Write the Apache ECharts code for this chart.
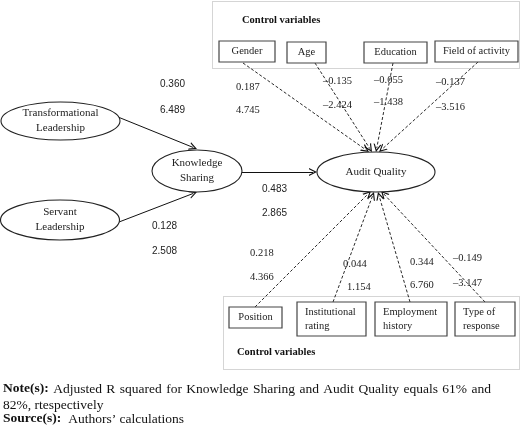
<!DOCTYPE html>
<html><head><meta charset="utf-8">
<script src="https://cdn.jsdelivr.net/npm/echarts@6/dist/echarts.min.js"></script>
<style>html,body{margin:0;padding:0;background:#fff}#c{width:520px;height:436px}</style>
</head><body><div id="c"></div>
<script>
// ---- content ----
const constructs = ['Transformational\nLeadership', 'Knowledge\nSharing', 'Servant\nLeadership', 'Audit Quality'];
const topControls = ['Gender', 'Age', 'Education', 'Field of activity'];
const bottomControls = ['Position', 'Institutional\nrating', 'Employment\nhistory', 'Type of\nresponse'];
const controlTitle = 'Control variables';
const pathBeta = [0.360, 0.128, 0.483];
const pathT = [6.489, 2.508, 2.865];
const topBeta = [0.187, -0.135, -0.055, -0.137];
const topT = [4.745, -2.424, -1.438, -3.516];
const bottomBeta = [0.218, 0.044, 0.344, -0.149];
const bottomT = [4.366, 1.154, 6.760, -3.147];
const noteHead = 'Note(s):';
const noteLine1 = 'Adjusted R squared for Knowledge Sharing and Audit Quality equals 61% and';
const noteLine2 = '82%, rtespectively';
const sourceHead = 'Source(s):';
const sourceText = 'Authors\u2019 calculations';

// ---- layout (diagram geometry, in canvas units) ----
const ellipseLayout = [[60.5,121,59.5,19],[197,171,45,21],[60,220,59.5,20],[376,172,59,20]];
const topBoxLayout = [[219,41,56,21],[287,42,39,21],[364,42,63,21],[435,41,83,21]];
const bottomBoxLayout = [[229,307,53,21],[297,302,69,34],[375,302,72,34],[455,302,60,34]];
const frameLayout = [[212,1,307,67,242,20],[223,296,296,73,237,352]];
const pathArrows = [[[118,117],[197,149]],[[119,222],[197,192]],[[242,172],[317,172]]];
const topArrows = [[[243,63],[369,152]],[[315,63],[372,152]],[[393,63],[376,152]],[[478,62],[379,152]]];
const bottomArrows = [[[255,307],[371,191]],[[333,302],[374,192]],[[410,302],[378,192]],[[485,302],[381,191]]];
const pathLabelPos = [[160,84,160,110],[152,226,152,251],[262,189,262,213]];
const topLabelPos = [[236,87,236,110],[323,81,323,105],[374,80,374,102],[436,82,436,107]];
const bottomLabelPos = [[250,253,250,277],[343,264,347,287],[410,262,410,285],[453,258,453,283]];

const SERIF = '"Liberation Serif","DejaVu Serif",serif';
const SANS = '"Liberation Sans",Arial,sans-serif';
const fmt = v => (v < 0 ? '\u2013' : '') + Math.abs(v).toFixed(3);
const ARROW = 'path://M0,10 L5,0 L10,10 L8.4,10 L5,3.2 L1.6,10 Z';
const AH = 8;

function shorten(seg) {
  const [a, b] = seg;
  const dx = b[0]-a[0], dy = b[1]-a[1], L = Math.hypot(dx, dy);
  const k = (L - AH/2) / L;
  return [a, [a[0]+dx*k, a[1]+dy*k]];
}
function arrowSeries(segs, dashed) {
  return {
    type: 'lines', coordinateSystem: 'cartesian2d', polyline: false, silent: true, z: 2,
    symbol: ['none', ARROW], symbolSize: [AH, AH],
    lineStyle: {color: '#111', width: dashed ? 0.9 : 1, opacity: 1, curveness: 0, type: dashed ? [3, 2] : 'solid'},
    data: segs.map(s => ({coords: shorten(s)}))
  };
}
function labelSeries(pos, betas, ts, font) {
  return {
    type: 'custom', coordinateSystem: 'cartesian2d', silent: true, z: 5,
    data: pos.map(p => [p[0], p[1]]),
    renderItem: (params, api) => {
      const i = params.dataIndex, p = pos[i];
      const a = api.coord([p[0], p[1]]), b = api.coord([p[2], p[3]]);
      return {type: 'group', children: [
        {type: 'text', style: {text: fmt(betas[i]), x: a[0], y: a[1], font: font, fill: '#222', align: 'left', verticalAlign: 'middle'}},
        {type: 'text', style: {text: fmt(ts[i]), x: b[0], y: b[1], font: font, fill: '#222', align: 'left', verticalAlign: 'middle'}}
      ]};
    }
  };
}
function boxSeries(layout, names, leftAlign) {
  return {
    type: 'custom', coordinateSystem: 'cartesian2d', silent: true, z: 4,
    data: layout.map(l => [l[0], l[1]]),
    renderItem: (params, api) => {
      const i = params.dataIndex, l = layout[i];
      const p = api.coord([l[0], l[1]]);
      const multi = names[i].indexOf('\n') >= 0;
      const tx = (leftAlign && multi) ? p[0] + 8 : p[0] + l[2]/2;
      return {type: 'group', children: [
        {type: 'rect', shape: {x: p[0], y: p[1], width: l[2], height: l[3]},
         style: {fill: '#fff', stroke: '#444', lineWidth: 1.2}},
        {type: 'text', style: {text: names[i], x: tx, y: p[1] + l[3]/2, font: '10.5px ' + SERIF, lineHeight: 14,
          fill: '#222', align: (leftAlign && multi) ? 'left' : 'center', verticalAlign: 'middle'}}
      ]};
    }
  };
}

// justified first note line (word positions measured with canvas)
const NOTE_FONT = '13.5px ' + SERIF, NOTE_BOLD = 'bold 13.5px ' + SERIF;
const mctx = document.createElement('canvas').getContext('2d');
function tw(t, f) { mctx.font = f; return mctx.measureText(t).width; }
const noteX0 = 3, noteX1 = 491, noteY1 = 389, noteY2 = 405, sourceY = 419;
const noteGraphics = [];
(function () {
  const words = [{t: noteHead, f: NOTE_BOLD}].concat(noteLine1.split(' ').map(w => ({t: w, f: NOTE_FONT})));
  const total = words.reduce((s, w) => s + tw(w.t, w.f), 0);
  const gap = (noteX1 - noteX0 - total) / (words.length - 1);
  let x = noteX0;
  words.forEach(w => {
    noteGraphics.push({type: 'text', silent: true, x: x, y: noteY1,
      style: {text: w.t, font: w.f, fill: '#111', align: 'left', verticalAlign: 'middle'}});
    x += tw(w.t, w.f) + gap;
  });
  noteGraphics.push({type: 'text', silent: true, x: noteX0, y: noteY2,
    style: {text: noteLine2, font: NOTE_FONT, fill: '#111', align: 'left', verticalAlign: 'middle'}});
  noteGraphics.push({type: 'text', silent: true, x: noteX0, y: sourceY,
    style: {text: sourceHead, font: NOTE_BOLD, fill: '#111', align: 'left', verticalAlign: 'middle'}});
  noteGraphics.push({type: 'text', silent: true, x: noteX0 + tw(sourceHead, NOTE_BOLD) + 7, y: sourceY,
    style: {text: sourceText, font: NOTE_FONT, fill: '#111', align: 'left', verticalAlign: 'middle'}});
})();

const chart = echarts.init(document.getElementById('c'), null, {renderer: 'canvas'});
chart.setOption({
  animation: false,
  backgroundColor: '#fff',
  grid: {left: 0, right: 0, top: 0, bottom: 0},
  xAxis: {type: 'value', min: 0, max: 520, show: false},
  yAxis: {type: 'value', min: 0, max: 436, inverse: true, show: false},
  series: [
    {
      type: 'custom', coordinateSystem: 'cartesian2d', silent: true, z: 1,
      data: frameLayout.map(f => [f[0], f[1]]),
      renderItem: (params, api) => {
        const f = frameLayout[params.dataIndex];
        const p = api.coord([f[0], f[1]]), t = api.coord([f[4], f[5]]);
        return {type: 'group', children: [
          {type: 'rect', shape: {x: p[0] + 0.5, y: p[1] + 0.5, width: f[2], height: f[3]},
           style: {fill: 'none', stroke: '#aaa', lineWidth: 1, lineDash: [1, 1]}},
          {type: 'text', style: {text: controlTitle, x: t[0], y: t[1], font: 'bold 10.5px ' + SERIF,
            fill: '#111', align: 'left', verticalAlign: 'middle'}}
        ]};
      }
    },
    arrowSeries(pathArrows, false),
    arrowSeries(topArrows, true),
    arrowSeries(bottomArrows, true),
    {
      type: 'custom', coordinateSystem: 'cartesian2d', silent: true, z: 4,
      data: ellipseLayout.map(e => [e[0], e[1]]),
      renderItem: (params, api) => {
        const i = params.dataIndex, e = ellipseLayout[i];
        const c = api.coord([e[0], e[1]]);
        return {type: 'group', children: [
          {type: 'ellipse', shape: {cx: c[0], cy: c[1], rx: e[2], ry: e[3]},
           style: {fill: '#fff', stroke: '#222', lineWidth: 1.1}},
          {type: 'text', style: {text: constructs[i], x: c[0], y: c[1], font: '11px ' + SERIF, lineHeight: 15,
            fill: '#222', align: 'center', verticalAlign: 'middle'}}
        ]};
      }
    },
    boxSeries(topBoxLayout, topControls, false),
    boxSeries(bottomBoxLayout, bottomControls, true),
    labelSeries(pathLabelPos, pathBeta, pathT, '10px ' + SANS),
    labelSeries(topLabelPos, topBeta, topT, '10.5px ' + SERIF),
    labelSeries(bottomLabelPos, bottomBeta, bottomT, '10.5px ' + SERIF)
  ],
  graphic: noteGraphics
});
</script>
</body></html>
